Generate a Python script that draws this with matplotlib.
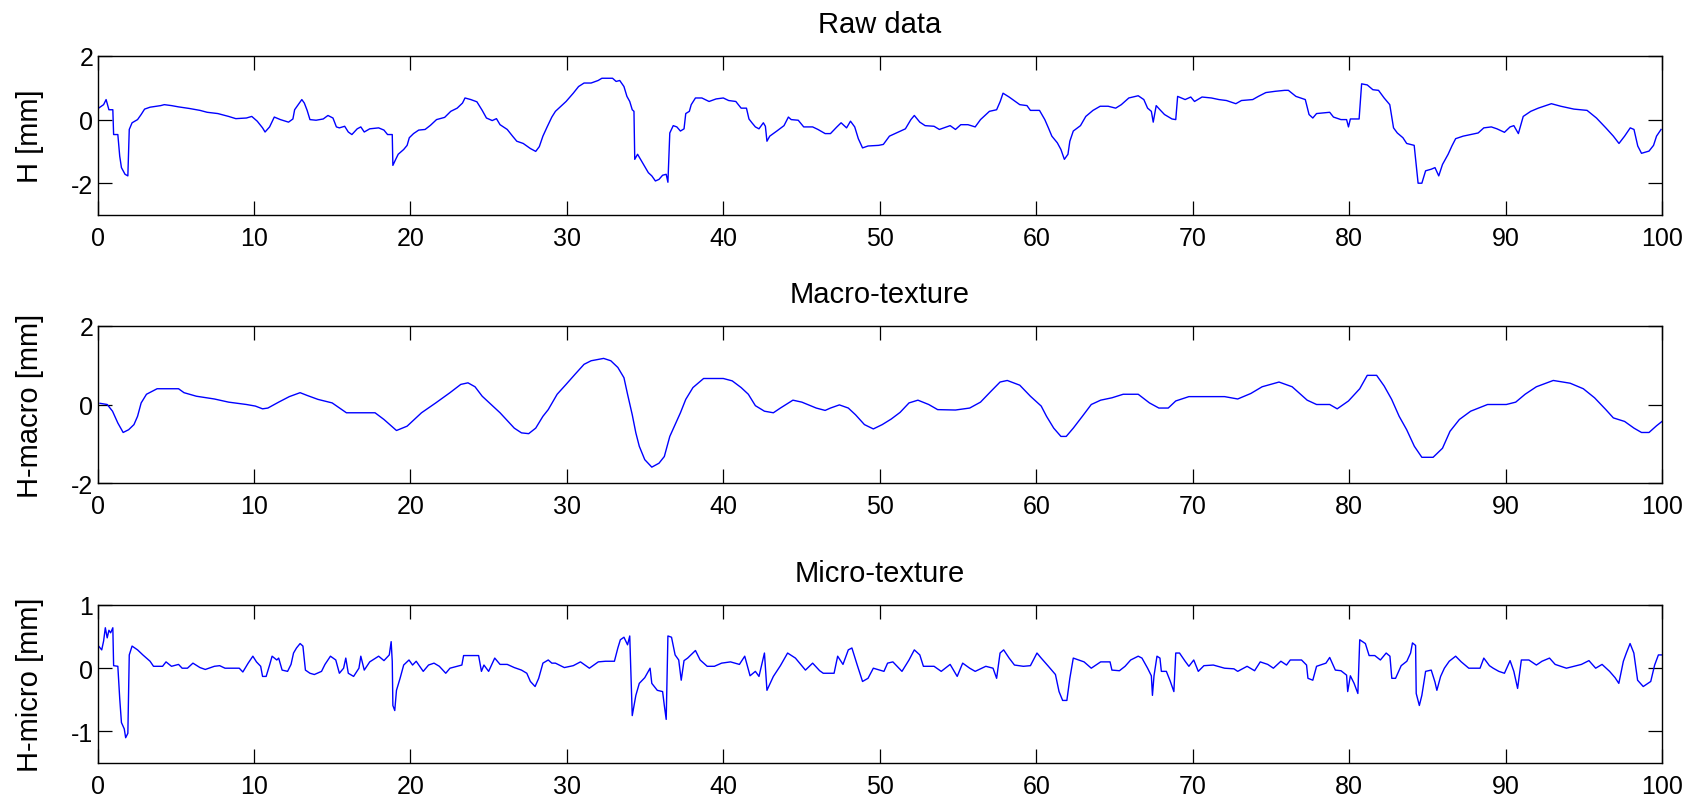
import matplotlib
matplotlib.use("Agg")
import matplotlib.pyplot as plt
import numpy as np

plt.rcParams['font.family'] = ['Liberation Sans', 'DejaVu Sans']
plt.rcParams['axes.unicode_minus'] = False

titles = ["Raw data", "Macro-texture", "Micro-texture"]
ylabels = ["H [mm]", "H-macro [mm]", "H-micro [mm]"]
xticks = [0, 10, 20, 30, 40, 50, 60, 70, 80, 90, 100]
yticks = [[-2, 0, 2], [-2, 0, 2], [-1, 0, 1]]
ylims = [(-3, 2), (-2, 2), (-1.5, 1)]

raw_x = [0.07, 0.39, 0.55, 0.73, 0.98, 1.03, 1.30, 1.42, 1.53, 1.76, 1.94, 2.03, 2.21, 2.56, 2.79, 3.01,
         3.36, 4.04, 4.27, 4.73, 5.18, 5.87, 6.55, 7.01, 7.69, 8.38, 8.84, 9.52, 9.86, 10.21, 10.55, 10.71,
         11.0, 11.3, 11.69, 12.21, 12.49, 12.60, 12.83, 13.06, 13.22, 13.4, 13.58, 13.97, 14.43, 14.73,
         15.05, 15.27, 15.46, 15.8, 16.03, 16.26, 16.6, 16.83, 17.05, 17.4, 17.97, 18.31, 18.54, 18.84,
         18.88, 19.06, 19.22, 19.57, 19.79, 19.93, 20.2, 20.53, 20.94, 21.28, 21.67, 22.19, 22.58, 22.99,
         23.33, 23.49, 23.86, 24.25, 24.59, 24.86, 25.23, 25.5, 25.73, 26.19, 26.53, 26.8, 27.21, 27.67,
         28.01, 28.24, 28.47, 28.74, 29.04, 29.27, 29.95, 30.41, 30.75, 31.10, 31.55, 32.0, 32.24, 32.92,
         33.15, 33.38, 33.65, 33.84, 34.02, 34.18, 34.29, 34.34, 34.52, 34.86, 35.21, 35.43, 35.66, 35.89,
         36.12, 36.35, 36.46, 36.58, 36.8, 37.03, 37.26, 37.49, 37.6, 37.83, 37.95, 38.22, 38.63, 39.09,
         39.54, 40.0, 40.34, 40.8, 41.14, 41.48, 41.64, 41.83, 42.05, 42.28, 42.56, 42.69, 42.79, 42.97,
         43.42, 43.88, 44.16, 44.34, 44.79, 45.14, 45.71, 46.05, 46.51, 46.85, 47.26, 47.53, 47.88, 48.13,
         48.4, 48.63, 48.9, 49.25, 49.93, 50.23, 50.62, 51.07, 51.64, 51.99, 52.21, 52.56, 52.9, 53.47,
         53.81, 54.27, 54.5, 54.84, 55.18, 55.64, 56.1, 56.44, 57.01, 57.47, 57.7, 57.88, 58.27, 58.95,
         59.41, 59.63, 60.21, 60.55, 60.78, 61.0, 61.35, 61.58, 61.8, 62.03, 62.15, 62.37, 62.83, 63.17,
         63.63, 64.09, 64.6, 65.08, 65.44, 65.92, 66.52, 66.88, 67.12, 67.36, 67.48, 67.67, 67.91, 68.2,
         68.68, 68.92, 69.04, 69.52, 69.88, 70.12, 70.6, 71.2, 71.68, 72.16, 72.76, 73.12, 73.84, 74.2,
         74.68, 75.28, 75.88, 76.12, 76.6, 77.2, 77.44, 77.68, 77.92, 78.76, 79.0, 79.48, 79.84, 79.96,
         80.08, 80.64, 80.8, 81.16, 81.52, 81.88, 82.24, 82.6, 82.84, 83.08, 83.44, 83.68, 84.16, 84.41,
         84.65, 84.89, 85.25, 85.49, 85.73, 85.97, 86.33, 86.57, 86.81, 87.29, 87.77, 88.25, 88.61, 89.09,
         89.45, 89.93, 90.29, 90.53, 90.82, 91.13, 91.61, 92.09, 92.93, 93.53, 94.37, 95.21, 95.81, 96.41,
         96.89, 97.25, 97.61, 97.97, 98.21, 98.45, 98.69, 99.17, 99.46, 99.65, 99.94]
raw_y = [0.36, 0.47, 0.63, 0.31, 0.31, -0.47, -0.47, -1.15, -1.51, -1.72, -1.77, -0.31, -0.10, 0.0, 0.16, 0.33,
         0.39, 0.44, 0.47, 0.44, 0.40, 0.35, 0.29, 0.23, 0.19, 0.10, 0.03, 0.05, 0.10, -0.05, -0.26, -0.39,
         -0.23, 0.08, 0.0, -0.08, 0.02, 0.31, 0.47, 0.63, 0.52, 0.29, 0.0, -0.02, 0.02, 0.13,
         0.05, -0.23, -0.26, -0.21, -0.39, -0.47, -0.29, -0.23, -0.39, -0.29, -0.26, -0.33, -0.47, -0.47,
         -1.44, -1.25, -1.09, -0.94, -0.81, -0.57, -0.44, -0.33, -0.31, -0.18, 0.0, 0.07, 0.26, 0.36,
         0.52, 0.68, 0.63, 0.56, 0.29, 0.05, -0.03, 0.03, -0.16, -0.31, -0.52, -0.68, -0.75, -0.91,
         -1.0, -0.85, -0.52, -0.23, 0.08, 0.26, 0.57, 0.83, 1.04, 1.15, 1.15, 1.23, 1.30, 1.30,
         1.20, 1.23, 1.04, 0.73, 0.57, 0.31, 0.26, -1.25, -1.09, -1.375, -1.67, -1.77, -1.93, -1.88,
         -1.75, -1.72, -1.97, -0.42, -0.19, -0.23, -0.36, -0.29, 0.19, 0.26, 0.47, 0.68, 0.68, 0.57,
         0.65, 0.68, 0.60, 0.57, 0.36, 0.36, 0.02, -0.10, -0.23, -0.29, -0.10, -0.21, -0.68, -0.52,
         -0.36, -0.19, 0.08, 0.0, -0.02, -0.23, -0.23, -0.31, -0.44, -0.44, -0.23, -0.10, -0.26, -0.05,
         -0.23, -0.60, -0.89, -0.83, -0.81, -0.78, -0.52, -0.42, -0.29, 0.0, 0.13, -0.08, -0.19, -0.21,
         -0.31, -0.23, -0.19, -0.31, -0.16, -0.16, -0.23, 0.0, 0.26, 0.31, 0.57, 0.83, 0.71, 0.47,
         0.44, 0.29, 0.29, 0.0, -0.26, -0.52, -0.73, -0.94, -1.25, -1.09, -0.68, -0.36, -0.19, 0.10,
         0.29, 0.42, 0.42, 0.36, 0.47, 0.68, 0.75, 0.63, 0.36, 0.26, -0.08, 0.44, 0.31, 0.16,
         0.02, 0.0, 0.73, 0.63, 0.71, 0.57, 0.71, 0.68, 0.63, 0.60, 0.50, 0.60, 0.63, 0.73,
         0.85, 0.89, 0.92, 0.92, 0.73, 0.63, 0.16, 0.05, 0.19, 0.23, 0.08, 0.0, 0.0, -0.23,
         0.02, 0.02, 1.125, 1.09, 0.94, 0.92, 0.68, 0.47, -0.26, -0.42, -0.57, -0.75, -0.81, -2.0,
         -2.0, -1.61, -1.56, -1.51, -1.77, -1.41, -1.09, -0.83, -0.60, -0.52, -0.47, -0.42, -0.26, -0.23,
         -0.29, -0.40, -0.23, -0.19, -0.44, 0.10, 0.26, 0.36, 0.50, 0.42, 0.33, 0.29, 0.05, -0.26,
         -0.52, -0.75, -0.52, -0.26, -0.31, -0.83, -1.06, -0.99, -0.81, -0.52, -0.31]

macro_x = [0.16, 0.62, 0.96, 1.3, 1.64, 1.99, 2.33, 2.56, 2.79, 3.13, 3.81, 5.18, 5.53, 6.32, 7.47, 8.38,
           9.52, 10.09, 10.55, 10.89, 11.58, 12.26, 12.95, 13.4, 14.09, 15.0, 15.91, 17.74, 18.31, 19.11,
           19.79, 20.71, 21.62, 22.53, 23.22, 23.68, 24.13, 24.59, 25.73, 26.64, 27.1, 27.56, 28.01, 28.47,
           28.81, 29.38, 29.95, 30.53, 31.10, 31.55, 32.35, 32.81, 33.26, 33.65, 33.88, 34.18, 34.41, 34.63,
           34.98, 35.43, 35.89, 36.23, 36.58, 36.92, 37.26, 37.6, 38.06, 38.74, 40.0, 40.57, 41.14, 41.6,
           42.05, 42.63, 43.2, 43.65, 44.45, 45.02, 45.94, 46.51, 46.85, 47.42, 47.99, 48.45, 49.02, 49.59,
           50.16, 50.73, 51.3, 51.87, 52.44, 53.13, 53.7, 54.84, 55.75, 56.44, 57.12, 57.69, 58.15, 58.95,
           59.63, 60.32, 60.66, 61.12, 61.58, 61.92, 62.37, 62.95, 63.52, 64.12, 64.84, 65.56, 66.52, 67.24,
           67.84, 68.44, 68.92, 69.76, 72.04, 72.88, 73.72, 74.44, 75.52, 76.36, 77.32, 77.92, 78.76, 79.24,
           79.96, 80.68, 81.16, 81.76, 82.24, 82.72, 83.2, 83.68, 84.17, 84.65, 85.37, 85.97, 86.45, 87.05,
           87.77, 88.85, 90.05, 90.65, 91.25, 91.97, 93.05, 94.13, 94.97, 95.69, 96.41, 96.89, 97.61, 98.21,
           98.69, 99.17, 99.65, 100.0]
macro_y = [0.03, 0.0, -0.17, -0.47, -0.71, -0.64, -0.51, -0.30, 0.04, 0.26, 0.40, 0.40, 0.30, 0.21, 0.14, 0.06,
           0.0, -0.04, -0.11, -0.09, 0.06, 0.20, 0.30, 0.23, 0.13, 0.04, -0.21, -0.21, -0.38, -0.66,
           -0.55, -0.21, 0.04, 0.30, 0.51, 0.55, 0.45, 0.21, -0.21, -0.60, -0.72, -0.74, -0.60, -0.30,
           -0.13, 0.26, 0.51, 0.77, 1.02, 1.11, 1.17, 1.11, 0.94, 0.68, 0.26, -0.26, -0.72, -1.06,
           -1.40, -1.59, -1.49, -1.32, -0.81, -0.51, -0.21, 0.13, 0.43, 0.66, 0.66, 0.60, 0.43, 0.26,
           -0.03, -0.17, -0.21, -0.09, 0.11, 0.06, -0.09, -0.15, -0.09, -0.01, -0.09, -0.26, -0.51, -0.62,
           -0.51, -0.37, -0.20, 0.04, 0.11, 0.0, -0.13, -0.14, -0.09, 0.06, 0.34, 0.57, 0.61, 0.49,
           0.21, -0.04, -0.30, -0.60, -0.81, -0.81, -0.60, -0.30, 0.0, 0.11, 0.17, 0.26, 0.26, 0.04,
           -0.09, -0.09, 0.09, 0.20, 0.20, 0.14, 0.28, 0.45, 0.57, 0.45, 0.11, 0.0, 0.0, -0.11,
           0.09, 0.40, 0.74, 0.74, 0.47, 0.13, -0.30, -0.64, -1.06, -1.34, -1.34, -1.11, -0.68, -0.38,
           -0.17, 0.0, 0.0, 0.06, 0.26, 0.45, 0.61, 0.54, 0.40, 0.17, -0.13, -0.34, -0.43, -0.60,
           -0.71, -0.71, -0.54, -0.43]

micro_x = [0.07, 0.27, 0.39, 0.5, 0.62, 0.73, 0.84, 0.98, 1.03, 1.30, 1.42, 1.53, 1.71, 1.80, 1.94, 2.03,
           2.21, 2.56, 2.9, 3.36, 3.58, 4.16, 4.38, 4.73, 5.18, 5.41, 5.75, 6.1, 6.55, 6.89, 7.47, 7.81,
           8.15, 9.06, 9.29, 9.63, 9.93, 10.16, 10.43, 10.55, 10.78, 11.0, 11.16, 11.46, 11.58, 11.8, 12.15,
           12.37, 12.53, 12.72, 12.95, 13.13, 13.29, 13.58, 13.86, 14.32, 14.54, 14.89, 15.23, 15.46, 15.73,
           15.87, 16.03, 16.37, 16.71, 16.83, 17.05, 17.4, 17.97, 18.31, 18.65, 18.77, 18.84, 18.88, 19.0,
           19.11, 19.34, 19.57, 19.91, 20.14, 20.37, 20.82, 21.16, 21.51, 21.85, 22.26, 22.53, 22.99, 23.29,
           23.4, 24.36, 24.54, 24.7, 25.0, 25.39, 25.73, 26.19, 26.64, 27.1, 27.44, 27.67, 27.97, 28.2,
           28.47, 28.81, 29.04, 29.27, 29.84, 30.41, 30.87, 31.44, 32.01, 32.47, 33.04, 33.26, 33.42, 33.65,
           33.88, 34.02, 34.18, 34.41, 34.63, 34.98, 35.32, 35.43, 35.78, 36.12, 36.23, 36.35, 36.46, 36.69,
           36.92, 37.15, 37.31, 37.49, 37.72, 38.22, 38.52, 38.97, 39.43, 39.89, 40.46, 41.03, 41.37, 41.71,
           42.05, 42.28, 42.63, 42.79, 43.2, 43.65, 44.11, 44.61, 45.25, 45.71, 46.16, 46.39, 47.08, 47.31,
           47.65, 47.99, 48.22, 48.56, 48.9, 49.25, 49.59, 50.27, 50.5, 50.84, 51.42, 51.87, 52.21, 52.56,
           52.79, 53.47, 53.93, 54.5, 54.95, 55.3, 55.75, 56.1, 56.78, 57.24, 57.47, 57.69, 57.92, 58.27,
           58.61, 59.18, 59.63, 60.05, 60.32, 60.78, 61.23, 61.46, 61.69, 61.96, 62.15, 62.37, 62.72, 63.06,
           63.52, 64.12, 64.72, 64.84, 65.32, 65.68, 66.04, 66.52, 66.76, 67.12, 67.36, 67.43, 67.53, 67.72,
           67.91, 68.0, 68.32, 68.56, 68.8, 68.92, 69.16, 69.52, 69.76, 70.07, 70.36, 70.72, 71.32, 72.04,
           72.64, 72.88, 73.48, 73.96, 74.32, 74.8, 75.16, 75.64, 76.0, 76.24, 76.96, 77.28, 77.37, 77.68,
           77.92, 78.52, 78.76, 79.12, 79.48, 79.84, 79.91, 80.08, 80.32, 80.56, 80.68, 81.04, 81.28, 81.64,
           82.0, 82.37, 82.61, 82.73, 82.97, 83.33, 83.69, 83.93, 84.05, 84.25, 84.29, 84.49, 84.65, 84.89,
           85.25, 85.49, 85.61, 85.85, 86.09, 86.4, 86.81, 87.17, 87.65, 88.37, 88.61, 88.97, 89.21, 89.57,
           89.93, 90.29, 90.53, 90.77, 91.01, 91.49, 91.97, 92.33, 92.81, 93.17, 93.89, 94.85, 95.33, 95.76,
           96.17, 96.65, 97.0, 97.24, 97.53, 97.72, 97.96, 98.2, 98.44, 98.8, 99.28, 99.53, 99.77, 100.0]
micro_y = [0.35, 0.29, 0.43, 0.64, 0.48, 0.60, 0.56, 0.64, 0.04, 0.03, -0.48, -0.86, -0.96, -1.10, -1.03, 0.21,
           0.35, 0.29, 0.21, 0.11, 0.03, 0.03, 0.10, 0.03, 0.06, 0.0, 0.0, 0.08, 0.01, -0.02, 0.03, 0.04,
           0.0, 0.0, -0.06, 0.08, 0.19, 0.10, 0.03, -0.13, -0.13, 0.05, 0.19, 0.13, 0.16, -0.03, -0.05,
           0.06, 0.24, 0.32, 0.39, 0.35, -0.03, -0.08, -0.10, -0.05, 0.06, 0.19, 0.13, -0.08, 0.0,
           0.16, -0.08, -0.13, 0.0, 0.19, -0.03, 0.10, 0.19, 0.12, 0.21, 0.42, 0.11, -0.59, -0.67,
           -0.35, -0.16, 0.05, 0.13, 0.05, 0.11, -0.05, 0.05, 0.08, 0.03, -0.08, 0.0, 0.03, 0.05,
           0.20, 0.20, -0.05, 0.05, -0.05, 0.16, 0.06, 0.06, 0.01, -0.03, -0.08, -0.21, -0.29, -0.16,
           0.08, 0.13, 0.08, 0.08, 0.01, 0.04, 0.10, 0.0, 0.10, 0.11, 0.11, 0.32, 0.45, 0.49,
           0.37, 0.51, -0.75, -0.43, -0.24, -0.15, 0.0, -0.24, -0.35, -0.37, -0.59, -0.81, 0.51, 0.49,
           0.21, 0.13, -0.19, 0.12, 0.16, 0.28, 0.13, 0.03, 0.03, 0.08, 0.10, 0.06, 0.19, -0.12,
           -0.05, -0.13, 0.24, -0.35, -0.13, 0.04, 0.24, 0.16, -0.03, 0.08, -0.04, -0.08, -0.08, 0.19,
           0.06, 0.29, 0.32, 0.05, -0.21, -0.16, 0.0, -0.05, 0.08, 0.10, -0.05, 0.13, 0.29, 0.21,
           0.03, 0.03, -0.05, 0.06, -0.13, 0.08, 0.0, -0.05, 0.03, 0.0, -0.16, 0.24, 0.29, 0.16,
           0.05, 0.03, 0.04, 0.24, 0.16, 0.03, -0.10, -0.37, -0.51, -0.51, -0.16, 0.16, 0.13, 0.10,
           0.0, 0.10, 0.10, -0.03, -0.04, 0.03, 0.13, 0.19, 0.16, 0.0, -0.12, -0.43, -0.12, 0.19,
           0.16, -0.05, -0.05, -0.20, -0.37, 0.24, 0.24, 0.11, 0.03, 0.13, -0.05, 0.04, 0.05, 0.0,
           -0.01, -0.05, 0.03, -0.04, 0.10, 0.06, 0.0, 0.11, 0.05, 0.13, 0.13, 0.05, -0.16, -0.19,
           0.03, 0.08, 0.17, -0.03, -0.04, -0.11, -0.37, -0.12, -0.24, -0.40, 0.45, 0.39, 0.20, 0.20,
           0.13, 0.24, 0.19, -0.16, -0.16, 0.04, 0.11, 0.24, 0.40, 0.36, -0.40, -0.59, -0.43, -0.05,
           -0.03, -0.22, -0.35, -0.13, 0.0, 0.11, 0.19, 0.10, 0.0, 0.0, 0.16, 0.04, 0.0, -0.05,
           -0.08, 0.12, -0.05, -0.32, 0.13, 0.13, 0.05, 0.11, 0.16, 0.06, 0.0, 0.06, 0.12, 0.0,
           0.06, -0.05, -0.15, -0.24, 0.11, 0.24, 0.39, 0.24, -0.19, -0.29, -0.21, 0.05, 0.21, 0.21]

series = [(raw_x, raw_y), (macro_x, macro_y), (micro_x, micro_y)]

W, H = 1689, 804
fig = plt.figure(figsize=(W / 100, H / 100), dpi=100)
# axes rectangles in pixels (left, top, right, bottom)
rects = [(97.5, 57.0, 1662.0, 216.0), (97.5, 326.7, 1662.0, 484.3), (97.5, 606.0, 1662.0, 764.0)]

for i, ((xs, ys), r) in enumerate(zip(series, rects)):
    l, t, rr, b = r
    ax = fig.add_axes([l / W, 1 - b / H, (rr - l) / W, (b - t) / H])
    ax.plot(xs, ys, color='#0000FF', linewidth=1.0)
    ax.set_xlim(0, 100)
    ax.set_ylim(*ylims[i])
    ax.set_xticks(xticks)
    ax.set_yticks(yticks[i])
    ax.tick_params(axis='both', direction='in', top=True, right=True, length=10, width=0.9,
                   labelsize=18, colors='black')
    ax.tick_params(axis='x', pad=8)
    ax.tick_params(axis='y', pad=3)
    for sp in ax.spines.values():
        sp.set_linewidth(1.0)
    ax.set_title(titles[i], fontsize=21, pad=17)
    ax.set_ylabel(ylabels[i], fontsize=21)
    ax.yaxis.set_label_coords(-0.034, 0.5)

fig.savefig("out.png", dpi=100)
